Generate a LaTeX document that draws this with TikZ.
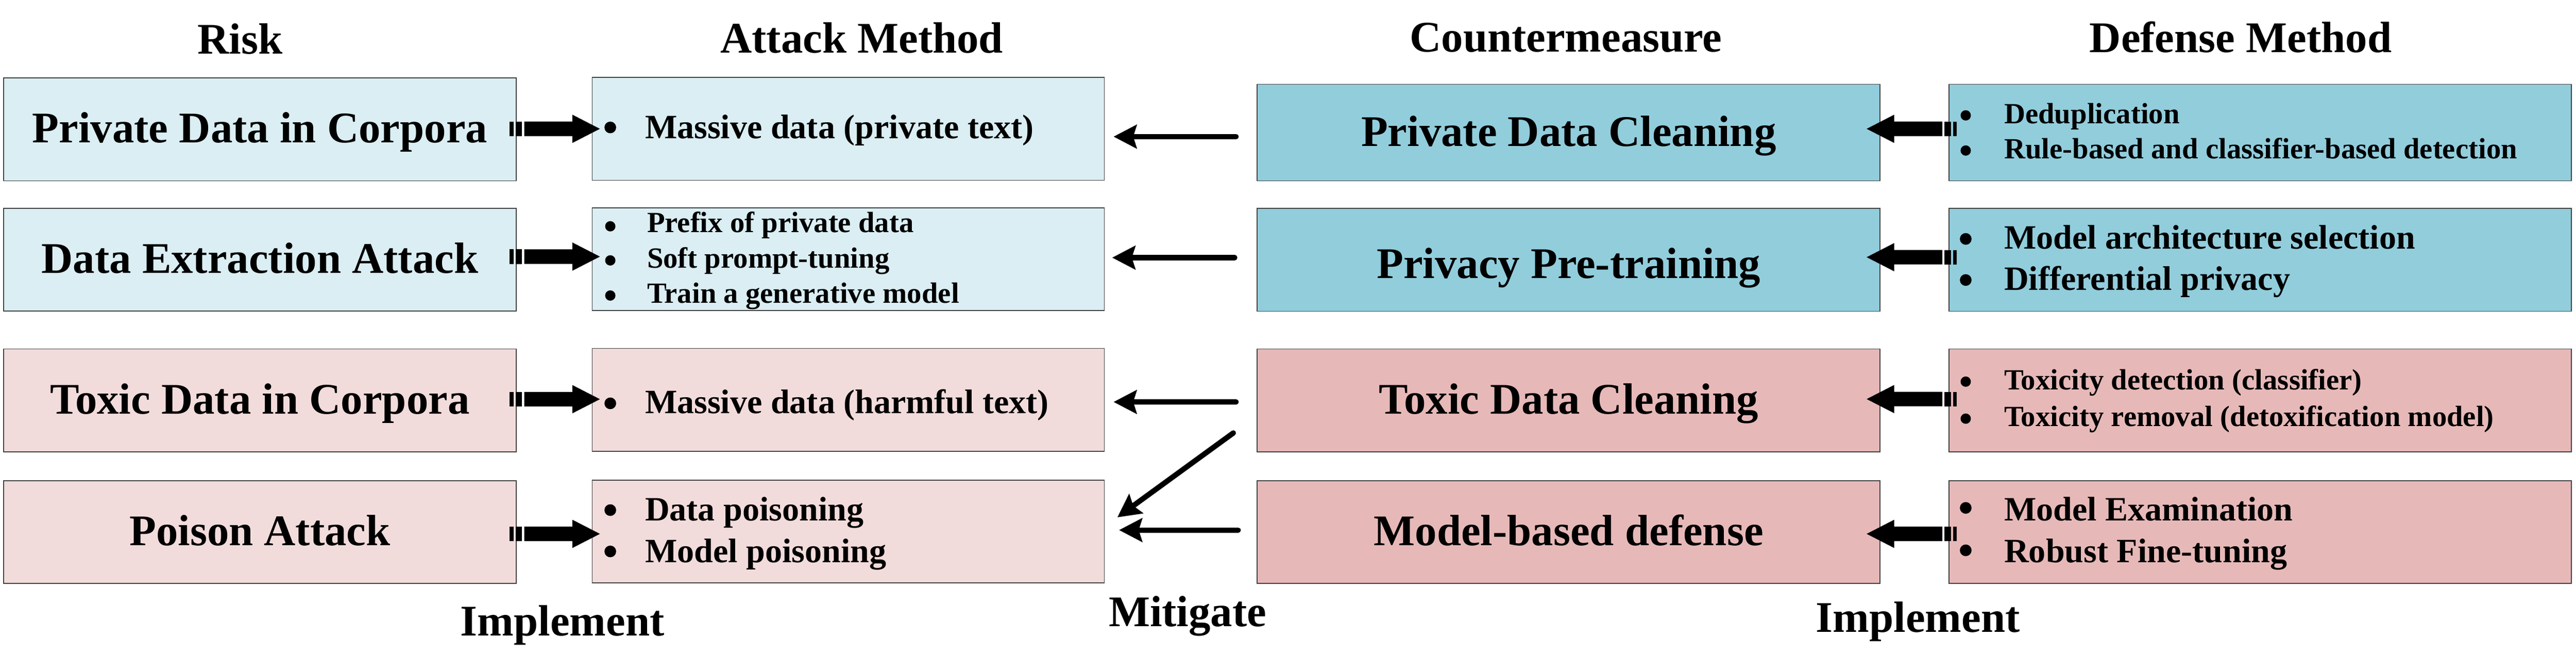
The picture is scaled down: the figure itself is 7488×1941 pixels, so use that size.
\documentclass[tikz,border=0pt]{standalone}
\usepackage{fontspec}
\setmainfont{Liberation Serif}
\usetikzlibrary{calc,arrows.meta}
\definecolor{riskblue}{HTML}{DAEEF3}
\definecolor{cmblue}{HTML}{92CDDC}
\definecolor{riskpink}{HTML}{F2DCDB}
\definecolor{cmpink}{HTML}{E6B9B8}
\definecolor{edgegray}{HTML}{404040}
\newcommand\blist[1]{\begin{tabular}[t]{@{}l@{}}#1\end{tabular}}
\newcommand\stripedarrow[2]{%
  \begin{scope}[shift={#1},xscale=#2]
    \fill (0,-21) rectangle (10.5,21);
    \fill (17,-21) rectangle (35.5,21);
    \fill (42,-21) -- (182,-21) -- (182,-41) -- (262,0) -- (182,41) -- (182,21) -- (42,21) -- cycle;
  \end{scope}}
\begin{document}
\begin{tikzpicture}[x=0.1pt,y=-0.1pt,
  box/.style={draw=edgegray, line width=0.25pt, inner sep=0pt, outer sep=0pt, minimum height=29.85pt},
  riskbox/.style={box, minimum width=149pt},
  attbox/.style={box, minimum width=148.85pt},
  cmbox/.style={box, minimum width=181.05pt},
  defbox/.style={box, minimum width=180.95pt},
  maintext/.style={font=\fontsize{12.7}{15}\selectfont\bfseries, text height=9pt, text depth=1.2pt},
  title/.style={font=\fontsize{12.7}{15}\selectfont\bfseries, anchor=base, inner sep=0pt},
  biglist/.style={anchor=base west, inner sep=0pt, font=\fontsize{9.9}{12}\selectfont\bfseries},
  smalllist/.style={anchor=base west, inner sep=0pt, font=\fontsize{8.5}{10.2}\selectfont\bfseries},
  bigdot/.style={fill=black, radius=1.7pt},
  smalldot/.style={fill=black, radius=1.5pt},
  mit/.style={line width=1.55pt, line cap=round, -{Stealth[length=6.7pt,width=6.8pt,inset=1pt]}},
]
\fill[white] (0,0) rectangle (7488,1941);
\useasboundingbox (0,0) rectangle (7488,1941);

% titles
\node[title] (tRisk) at (698,157) {Risk};
\node[title] (tAttack) at (2505,153) {Attack Method};
\node[title] (tCounter) at (4552,150) {Countermeasure};
\node[title] (tDefense) at (6513,152) {Defense Method};

% risk column
\node[riskbox, fill=riskblue, maintext] (r1) at (755.5,375.5) {Private Data in Corpora};
\node[riskbox, fill=riskblue, maintext] (r2) at (755.5,754) {Data Extraction Attack};
\node[riskbox, fill=riskpink, maintext] (r3) at (755.5,1162.25) {Toxic Data in Corpora};
\node[riskbox, fill=riskpink, maintext] (r4) at (755.5,1544.8) {Poison Attack};

% attack column
\node[attbox, fill=riskblue] (a1) at (2465.75,374) {};
\node[attbox, fill=riskblue] (a2) at (2465.75,752.5) {};
\node[attbox, fill=riskpink] (a3) at (2465.75,1161) {};
\node[attbox, fill=riskpink] (a4) at (2465.75,1543.3) {};

% countermeasure column
\node[cmbox, fill=cmblue, maintext, minimum height=28pt] (c1) at (4559.75,385) {Private Data Cleaning};
\node[cmbox, fill=cmblue, maintext, text height=11.8pt] (c2) at (4559.75,754.5) {Privacy Pre-training};
\node[cmbox, fill=cmpink, maintext] (c3) at (4559.75,1162.25) {Toxic Data Cleaning};
\node[cmbox, fill=cmpink, maintext] (c4) at (4559.75,1544.8) {Model-based defense};

% defense column
\node[defbox, fill=cmblue, minimum height=28pt] (d1) at (6570.25,385) {};
\node[defbox, fill=cmblue] (d2) at (6570.25,754.5) {};
\node[defbox, fill=cmpink] (d3) at (6570.25,1162.25) {};
\node[defbox, fill=cmpink] (d4) at (6570.25,1544.8) {};

% attack method lists
\node[biglist] (l1) at (1873,401.8) {\blist{Massive data (private text)}};
\node[smalllist, font=\fontsize{8.5}{10.25}\selectfont\bfseries] (l2) at (1879,675) {\blist{Prefix of private data\\ Soft prompt-tuning\\ Train a generative model}};
\node[biglist] (l3) at (1873,1199.6) {\blist{Massive data (harmful text)}};
\node[biglist] (l4) at (1873,1512.5) {\blist{Data poisoning\\ Model poisoning}};
\fill[bigdot] (1774,370) circle;
\fill[smalldot] (1774,657) circle;
\fill[smalldot] (1774,756) circle;
\fill[smalldot] (1774,858) circle;
\fill[bigdot] (1774,1171) circle;
\fill[bigdot] (1774,1481) circle;
\fill[bigdot] (1774,1601) circle;

% defense method lists
\node[smalllist] (m1) at (5824,358) {\blist{Deduplication\\ Rule-based and classifier-based detection}};
\node[biglist, font=\fontsize{9.9}{11.95}\selectfont\bfseries] (m2) at (5824,722.8) {\blist{Model architecture selection\\ Differential privacy}};
\node[smalllist, font=\fontsize{8.5}{10.7}\selectfont\bfseries] (m3) at (5824,1131) {\blist{Toxicity detection (classifier)\\ Toxicity removal (detoxification model)}};
\node[biglist, font=\fontsize{9.9}{12.1}\selectfont\bfseries] (m4) at (5824,1512.5) {\blist{Model Examination\\ Robust Fine-tuning}};
\fill[smalldot] (5714,335) circle;
\fill[smalldot] (5714,437) circle;
\fill[bigdot] (5714,693.7) circle;
\fill[bigdot] (5714,813) circle;
\fill[smalldot] (5714,1108) circle;
\fill[smalldot] (5714,1215.5) circle;
\fill[bigdot] (5714,1474.6) circle;
\fill[bigdot] (5714,1597.8) circle;

% implement arrows: risk -> attack
\stripedarrow{($(r1.east)+(-18.6,-1.5)$)}{1}
\stripedarrow{($(r2.east)+(-18.6,-9)$)}{1}
\stripedarrow{($(r3.east)+(-18.6,-3.25)$)}{1}
\stripedarrow{($(r4.east)+(-18.6,5.2)$)}{1}

% implement arrows: defense -> countermeasure
\stripedarrow{($(d1.west)+(22.5,-11)$)}{-1}
\stripedarrow{($(d2.west)+(22.5,-7.8)$)}{-1}
\stripedarrow{($(d3.west)+(22.5,-3.6)$)}{-1}
\stripedarrow{($(d4.west)+(22.5,5.2)$)}{-1}

% mitigate arrows
\draw[mit] ($(c1.west)+(-61.5,11.7)$) -- ($(a1.east)+(27,22.7)$);
\draw[mit] ($(c2.west)+(-65.5,-6.5)$) -- ($(a2.east)+(23,-4.5)$);
\draw[mit] ($(c3.west)+(-61.5,4.75)$) -- ($(a3.east)+(27,6)$);
\draw[mit] ($(c3.west)+(-69.5,94.75)$) -- ($(a4.east)+(38,-41.3)$);
\draw[mit] ($(c4.west)+(-55.5,-5.8)$) -- ($(a4.east)+(43,-4.3)$);

% bottom labels
\node[title] (bImpl1) at (1635,1846) {Implement};
\node[title] (bMit) at (3452,1819) {Mitigate};
\node[title] (bImpl2) at (5575,1836) {Implement};
\end{tikzpicture}
\end{document}
